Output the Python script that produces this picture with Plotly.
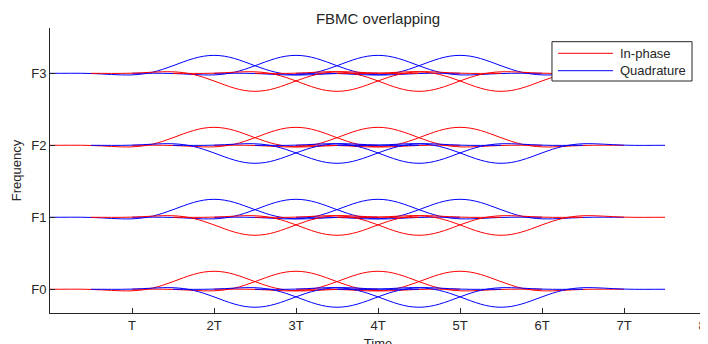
import plotly.graph_objects as go

# Pulse time axis (in units of T) and the prototype pulse shape
pulse_t = [i * 0.125 for i in range(33)]
pulse_shape = [0.0, 0.00046, 0.00125, 0.00086, -0.00218, -0.00828, -0.01602, -0.02198,
               -0.02145, -0.00977, 0.01602, 0.05579, 0.10573, 0.15874, 0.20586, 0.23839,
               0.25,
               0.23839, 0.20586, 0.15874, 0.10573, 0.05579, 0.01602, -0.00977, -0.02145,
               -0.02198, -0.01602, -0.00828, -0.00218, 0.00086, 0.00125, 0.00046, 0.0]

# Frequency rows
freq_levels = [0, 1, 2, 3]
freq_labels = ["F0", "F1", "F2", "F3"]

# Symbol start times (in T): integer-offset pulses and half-offset pulses
inphase_starts = [0, 1, 2, 3]
half_starts = [0.5, 1.5, 2.5, 3.5]

# Which component sits on the integer grid for each row (I = In-phase red, Q = Quadrature blue)
row_integer_comp = ["I", "Q", "I", "Q"]

time_ticks = [1, 2, 3, 4, 5, 6, 7, 8]
time_labels = ["T", "2T", "3T", "4T", "5T", "6T", "7T", "8T"]

legend_names = ["In-phase", "Quadrature"]

RED = "#FF0000"
BLUE = "#0000FF"
AX = "#262626"
FONT = "Liberation Sans, Arial, sans-serif"
COLORS = {"I": RED, "Q": BLUE}

fig = go.Figure()

for lvl, comp in zip(freq_levels, row_integer_comp):
    other = "Q" if comp == "I" else "I"
    groups = [(comp, inphase_starts, 1.0), (other, half_starts, -1.0)]
    for c, starts, sgn in groups:
        for s in starts:
            fig.add_trace(go.Scatter(
                x=[s + t for t in pulse_t],
                y=[lvl + sgn * v for v in pulse_shape],
                mode="lines",
                line=dict(color=COLORS[c], width=1, shape="spline", smoothing=1),
                name=legend_names[0] if c == "I" else legend_names[1],
                showlegend=False,
                hoverinfo="skip",
            ))

# Legend box drawn in paper coordinates (MATLAB-style, opaque)
shapes = [dict(type="rect", xref="paper", yref="paper", x0=0.7652, x1=0.9787, y0=0.814, y1=0.952,
               fillcolor="white", line=dict(color=AX, width=1), layer="above")]
annotations = []
for name, col, yy in [(legend_names[0], RED, 0.9112), (legend_names[1], BLUE, 0.8502)]:
    shapes.append(dict(type="line", xref="paper", yref="paper", x0=0.7744, x1=0.8582, y0=yy, y1=yy,
                       line=dict(color=col, width=1), layer="above"))
    annotations.append(dict(text=name, xref="paper", yref="paper", x=0.8659, y=yy,
                            xanchor="left", yanchor="middle", showarrow=False,
                            font=dict(size=13, color=AX, family=FONT)))

# Page body has an 8px margin, so the figure is offset by (8, 8) in the window
fig.update_layout(
    width=708, height=344,
    margin=dict(l=42, r=10, t=20, b=39, pad=0),
    paper_bgcolor="white", plot_bgcolor="white",
    font=dict(family=FONT, size=13, color=AX),
    title=dict(text="FBMC overlapping", x=0.5, xref="paper", xanchor="center",
               y=1 - 10.5 / 344, yanchor="middle", font=dict(size=15, color=AX)),
    showlegend=False,
    shapes=shapes,
    annotations=annotations,
    xaxis=dict(range=[0, 8], tickvals=time_ticks, ticktext=time_labels,
               ticks="inside", ticklen=5, tickcolor=AX, tickwidth=1,
               showline=True, linecolor=AX, linewidth=1, showgrid=False, zeroline=False,
               tickfont=dict(size=13, color=AX), automargin=False,
               ticklabeloverflow="allow",
               title=dict(text="Time", standoff=7, font=dict(size=13, color=AX))),
    yaxis=dict(range=[-0.33, 3.63], tickvals=freq_levels, ticktext=freq_labels,
               ticks="inside", ticklen=5, tickcolor=AX, tickwidth=1,
               showline=True, linecolor=AX, linewidth=1, showgrid=False, zeroline=False,
               tickfont=dict(size=13, color=AX), automargin=False,
               title=dict(text="Frequency", standoff=6, font=dict(size=13, color=AX))),
)

fig.write_html("out.html")
